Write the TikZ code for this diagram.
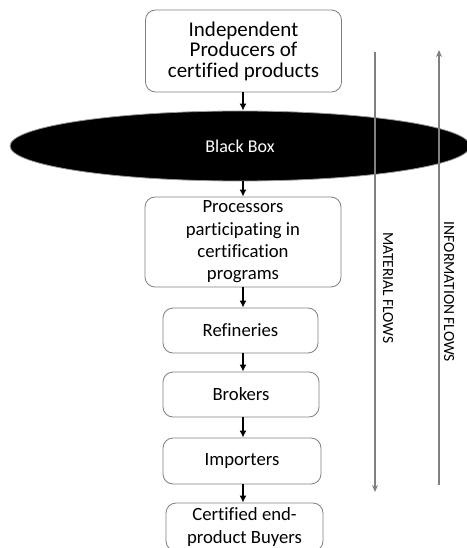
\documentclass[tikz,border=0pt]{standalone}
\usepackage{fontspec}
\setmainfont{Carlito}[Ligatures={NoCommon}]
\usetikzlibrary{shapes.geometric,arrows.meta}
\begin{document}
\begin{tikzpicture}[x=1pt,y=-1pt,
  stagebox/.style={draw=black!50, line width=0.8pt, rounded corners=10pt, fill=white,
    align=center, inner sep=0pt, font=\fontsize{18.7}{22.3}\selectfont},
  flowarrow/.style={-{Latex[length=7pt,width=7pt]}, line width=1.8pt, black},
  grayline/.style={draw=black!50, line width=1.4pt},
  flowlabel/.style={font=\fontsize{15.5}{18}\selectfont, rotate=-90, inner sep=0pt}]
\useasboundingbox (0,0) rectangle (466,548);
\node[stagebox, minimum width=196pt, minimum height=82pt, font=\fontsize{21}{20.5}\selectfont]
  (prod) at (243.5,51) {Independent\\Producers of\\certified products};
\node[ellipse, fill=black, draw=black!40, line width=0.8pt, minimum width=460pt,
  minimum height=70pt, inner sep=0pt, text=white, font=\fontsize{18}{21}\selectfont]
  (bb) at (240,146) {Black Box};
\node[stagebox, minimum width=196pt, minimum height=90pt] (proc) at (243,242)
  {Processors\\participating in\\certification\\programs};
\node[stagebox, minimum width=155pt, minimum height=45pt] (ref) at (240.5,330.5) {Refineries};
\node[stagebox, minimum width=156pt, minimum height=45pt] (brok) at (241,394.5) {Brokers};
\node[stagebox, minimum width=158pt, minimum height=46pt] (imp) at (242,461) {Importers};
\node[stagebox, minimum width=157pt, minimum height=48pt, font=\fontsize{18.7}{23}\selectfont]
  (buy) at (244.5,527) {Certified end-\\product Buyers};
\coordinate (ax) at (243,0);
\draw[flowarrow] (ax |- prod.south) -- (ax |- bb.north);
\draw[flowarrow] (ax |- bb.south) -- (ax |- proc.north);
\draw[flowarrow] (ax |- proc.south) -- (ax |- ref.north);
\draw[flowarrow] (ax |- ref.south) -- (ax |- brok.north);
\draw[flowarrow] (ax |- brok.south) -- (ax |- imp.north);
\draw[flowarrow] (ax |- imp.south) -- (ax |- buy.north);
% flow lines
\coordinate (mtop) at (375,52);
\coordinate (mbot) at (375,492);
\coordinate (itop) at (439,50);
\coordinate (ibot) at (439,485);
\draw[grayline, -{Stealth[length=7pt,width=6pt]}] (mtop) -- (mbot);
\draw[grayline, -{Stealth[length=7pt,width=6pt]}] (ibot) -- (itop);
\node[flowlabel] (mlab) at (388,288) {MATERIAL FLOWS};
\node[flowlabel] (ilab) at (449,292) {INFORMATION FLOWS};
\end{tikzpicture}
\end{document}
